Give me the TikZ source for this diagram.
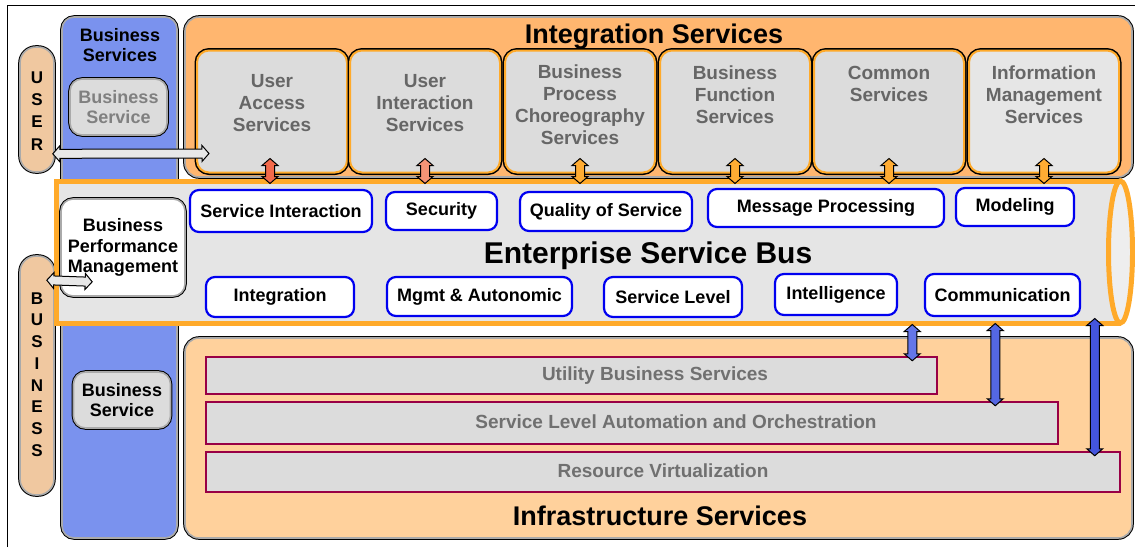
\documentclass[tikz,border=0pt]{standalone}
\usepackage{fontspec}
\setmainfont{Liberation Sans}
\usetikzlibrary{calc}

\definecolor{colblue}{RGB}{122,146,238}
\definecolor{pillpeach}{RGB}{240,200,160}
\definecolor{intorange}{RGB}{255,182,111}
\definecolor{infrapeach}{RGB}{255,209,156}
\definecolor{esbgray}{RGB}{229,229,229}
\definecolor{esbend}{RGB}{238,238,238}
\definecolor{esborange}{RGB}{255,170,42}
\definecolor{boxgray}{RGB}{220,220,220}
\definecolor{boxlight}{RGB}{230,230,230}
\definecolor{rimgray}{RGB}{170,170,170}
\definecolor{textgray}{RGB}{102,102,102}
\definecolor{palegray}{RGB}{128,128,128}
\definecolor{infragray}{RGB}{112,112,112}
\definecolor{crimson}{RGB}{153,0,69}
\definecolor{boxblue}{RGB}{0,0,240}
\definecolor{redarrow}{RGB}{243,106,75}
\definecolor{salmonarrow}{RGB}{246,148,118}
\definecolor{orangearrow}{RGB}{255,172,51}
\definecolor{bluearrowa}{RGB}{100,118,232}
\definecolor{bluearrowb}{RGB}{84,103,227}
\definecolor{bluearrowc}{RGB}{68,85,221}
\definecolor{whitearrow}{RGB}{232,232,232}

\newcommand\headfont{\fontsize{27}{30}\selectfont}
\newcommand\esbfont{\fontsize{30}{33}\selectfont}
\newcommand\boxfont{\fontsize{19}{22}\selectfont}
\newcommand\tagfont{\fontsize{18}{20.5}\selectfont}
\newcommand\letterfont{\fontsize{17}{17}\selectfont}

% fat double arrow between two points
\newcommand\fatarrow[3]{%
  \coordinate (fa-s) at (#2);
  \coordinate (fa-e) at (#3);
  \coordinate (fa-hs) at ($(fa-s)!7pt!(fa-e)$);
  \coordinate (fa-he) at ($(fa-e)!7pt!(fa-s)$);
  \draw[fatarrow, #1] (fa-s) -- ($(fa-hs)!8pt!90:(fa-e)$) -- ($(fa-hs)!4.5pt!90:(fa-e)$)
    -- ($(fa-he)!4.5pt!-90:(fa-s)$) -- ($(fa-he)!8pt!-90:(fa-s)$) -- (fa-e)
    -- ($(fa-he)!8pt!90:(fa-s)$) -- ($(fa-he)!4.5pt!90:(fa-s)$)
    -- ($(fa-hs)!4.5pt!-90:(fa-e)$) -- ($(fa-hs)!8pt!-90:(fa-e)$) -- cycle;
}

\tikzset{
  every node/.style={font=\bfseries, inner sep=0pt},
  blackrim/.style={preaction={draw=black, line width=3.6pt}, draw=rimgray, line width=1.6pt},
  pill/.style={blackrim, fill=pillpeach, rounded corners=16pt},
  column/.style={blackrim, fill=colblue, rounded corners=12pt},
  container/.style={blackrim, rounded corners=14pt},
  bizbox/.style={blackrim, fill=boxgray, rounded corners=12pt, minimum width=97pt, minimum height=56pt, align=center, font=\bfseries\tagfont},
  bpmbox/.style={blackrim, fill=white, rounded corners=12pt, align=center, font=\bfseries\tagfont},
  intbox/.style={preaction={draw=black, line width=5pt}, draw=esborange, line width=2pt, fill=boxgray, rounded corners=12pt, minimum width=150pt, minimum height=122pt},
  inttext/.style={align=center, text=textgray, font=\bfseries\boxfont},
  infrabox/.style={draw=crimson, line width=2.5pt, fill=boxgray},
  infratext/.style={text=infragray, font=\bfseries\boxfont},
  esbbody/.style={draw=esborange, line width=5pt, fill=esbgray},
  tagbox/.style={draw=boxblue, line width=2.2pt, fill=white, rounded corners=9pt, font=\bfseries\tagfont},
  bigtitle/.style={font=\bfseries\headfont},
  vletter/.style={font=\bfseries\letterfont},
  fatarrow/.style={draw=black, line width=1pt},
}

\begin{document}
\begin{tikzpicture}[x=1pt,y=-1pt]
\useasboundingbox (0,0) rectangle (1135,547);
\draw[line width=1pt] (7,547) -- (7,5) -- (1135,5);

% the side pills
\node[pill, minimum width=34pt, minimum height=125pt] (user) at (37,109.5) {};
\node[pill, minimum width=34pt, minimum height=239pt] (bus) at (37,375.5) {};
%     user letters
\node[vletter] (u1) at (37,77.3) {U};
\node[vletter] (u2) at (37,99.6) {S};
\node[vletter] (u3) at (37,121.9) {E};
\node[vletter] (u4) at (37,144.2) {R};
%     business letters
\node[vletter] (l1) at (37,298.5) {B};
\node[vletter] (l2) at (37,320.2) {U};
\node[vletter] (l3) at (37,341.9) {S};
\node[vletter] (l4) at (37,363.6) {I};
\node[vletter] (l5) at (37,385.3) {N};
\node[vletter] (l6) at (37,407) {E};
\node[vletter] (l7) at (37,428.7) {S};
\node[vletter] (l8) at (37,450.4) {S};

% business services column
\node[column, minimum width=115pt, minimum height=521pt] (bizcol) at (119.5,277.5) {};
\node[align=center, font=\bfseries\tagfont] (bizhead) at (120,45) {Business\\Services};
\node[bizbox, text=palegray] (biz1) at (118.5,107) {Business\\Service};
\node[bizbox] (biz2) at (122,400) {Business\\Service};

% integration services
\node[container, fill=intorange, minimum width=947pt, minimum height=160pt] (integ) at (658.5,97) {};
\node[bigtitle, anchor=base] (inthead) at (654,43) {Integration Services};
\node[intbox] (b1) at (272,111.5) {};
\node[intbox] (b2) at (425,111.5) {};
\node[intbox] (b3) at (580,111.5) {};
\node[intbox] (b4) at (735,111.5) {};
\node[intbox] (b5) at (889,111.5) {};
\node[intbox, fill=boxlight] (b6) at (1044,111.5) {};
\node[inttext] (t1) at (272,103) {User\\Access\\Services};
\node[inttext] (t2) at (425,103) {User\\Interaction\\Services};
\node[inttext] (t3) at (580,105) {Business\\Process\\Choreography\\Services};
\node[inttext] (t4) at (735,95) {Business\\Function\\Services};
\node[inttext] (t5) at (889,84) {Common\\Services};
\node[inttext] (t6) at (1044,95) {Information\\Management\\Services};

% infrastructure services
\node[container, fill=infrapeach, minimum width=947pt, minimum height=200pt] (infra) at (658.5,438) {};
\node[bigtitle, anchor=base] (infrahead) at (660,525) {Infrastructure Services};
\node[infrabox, minimum width=731pt, minimum height=37pt] (r1) at (571.5,375.5) {};
\node[infrabox, minimum width=852pt, minimum height=42pt] (r2) at (632,423) {};
\node[infrabox, minimum width=914pt, minimum height=40pt] (r3) at (663,472) {};
\node[infratext] (rt1) at (655,376) {Utility Business Services};
\node[infratext] (rt2) at (676,422) {Service Level Automation and Orchestration};
\node[infratext] (rt3) at (663,471) {Resource Virtualization};

% enterprise service bus
\node[esbbody, minimum width=1062pt, minimum height=142pt] (esb) at (587,252) {};
\draw[esbbody, fill=esbend] (esb.east) ellipse [x radius=12pt, y radius=71pt];
\node[font=\bfseries\esbfont, anchor=base] (esbhead) at (648,263) {Enterprise Service Bus};
%     top row
\node[tagbox, minimum width=182pt, minimum height=42pt] (s1) at (281,211) {Service Interaction};
\node[tagbox, minimum width=111pt, minimum height=38pt] (s2) at (441.5,211) {Security};
\node[tagbox, minimum width=172pt, minimum height=39pt] (s3) at (606,211.5) {Quality of Service};
\node[tagbox, minimum width=236pt, minimum height=38pt] (s4) at (826,208) {Message Processing};
\node[tagbox, minimum width=118pt, minimum height=38pt] (s5) at (1015,207) {Modeling};
%     bottom row
\node[tagbox, minimum width=148pt, minimum height=40pt] (s6) at (280,297) {Integration};
\node[tagbox, minimum width=185pt, minimum height=39pt] (s7) at (479.5,296.5) {Mgmt \& Autonomic};
\node[tagbox, minimum width=138pt, minimum height=40pt] (s8) at (673,297) {Service Level};
\node[tagbox, minimum width=122pt, minimum height=41pt] (s9) at (836,294.5) {Intelligence};
\node[tagbox, minimum width=155pt, minimum height=42pt] (s10) at (1002.5,295) {Communication};
\node[bpmbox, minimum width=124pt, minimum height=97pt] (bpm) at (123,247.5) {Business\\Performance\\Management};

% arrows
\fatarrow{fill=whitearrow}{$(user.south east)+(-2,-19)$}{$(b1.south west)+(13,-20)$}
\fatarrow{fill=whitearrow}{$(bus.north east)+(-8,25)$}{$(bpm.south west)+(32,-15)$}
%     integration to bus
\fatarrow{fill=redarrow}{$(b1.south)+(-2,-15)$}{$(b1.south |- esb.north)+(-2,5)$}
\fatarrow{fill=salmonarrow}{$(b2.south)+(0,-15)$}{$(b2.south |- esb.north)+(0,5)$}
\fatarrow{fill=orangearrow}{$(b3.south)+(0,-15)$}{$(b3.south |- esb.north)+(0,5)$}
\fatarrow{fill=orangearrow}{$(b4.south)+(0,-15)$}{$(b4.south |- esb.north)+(0,5)$}
\fatarrow{fill=orangearrow}{$(b5.south)+(0,-15)$}{$(b5.south |- esb.north)+(0,5)$}
\fatarrow{fill=orangearrow}{$(b6.south)+(0,-15)$}{$(b6.south |- esb.north)+(0,5)$}
%     bus to infrastructure
\fatarrow{fill=bluearrowa}{$(esb.south -| r1.north east)+(-26,-1)$}{$(r1.north east)+(-26,5)$}
\fatarrow{fill=bluearrowb}{$(esb.south -| r2.north east)+(-64,-2)$}{$(r2.north east)+(-64,5)$}
\fatarrow{fill=bluearrowc}{$(esb.south -| r3.north east)+(-26.5,-7)$}{$(r3.north east)+(-26.5,5)$}
\end{tikzpicture}
\end{document}
